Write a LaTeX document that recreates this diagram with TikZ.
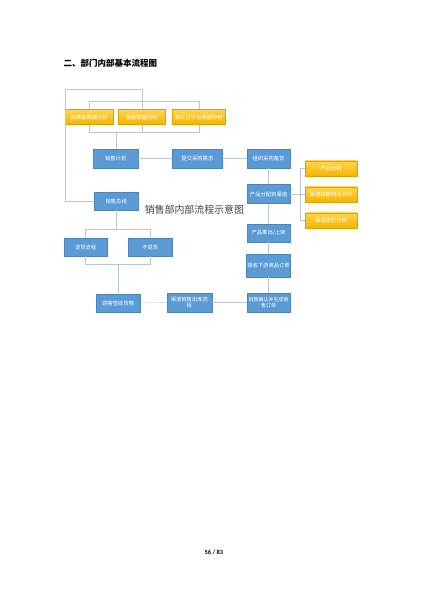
\documentclass[tikz,border=0pt]{standalone}
\usepackage{fontspec}
\setmainfont{Carlito}
\newfontfamily\cjk{Noto Sans CJK SC}
\usetikzlibrary{shapes, calc, shadows}
\usepackage{xcolor}
\definecolor{boxblue}{HTML}{5B9BD5}
\definecolor{goldtop}{HTML}{FFD54F}
\definecolor{goldbot}{HTML}{F4B400}
\definecolor{linegray}{HTML}{B7C7D9}

\begin{document}
\begin{tikzpicture}[x=0.4976mm, y=-0.4966mm]
			\tikzstyle{bluebox}=[
			rectangle,
			draw=boxblue!85!black,
			fill=boxblue,
			text=white,
			font=\cjk\fontsize{7.5}{8.5}\selectfont,
			align=center,
			inner sep=1pt,
			minimum width=22mm,
			minimum height=9.4mm,
			drop shadow={opacity=0.2, shadow xshift=0.4pt, shadow yshift=-0.5pt}
			]
			\tikzstyle{goldbox}=[
			bluebox,
			draw=goldbot!90!black,
			top color=goldtop,
			bottom color=goldbot,
			minimum height=7.5mm
			]
			\tikzstyle{link}=[draw=linegray, line width=0.6pt]
			\fill[white] (0,0) rectangle (422,598);
			\useasboundingbox (0,0) rectangle (422,598);
			%
			\node[anchor=west, font=\cjk\bfseries\fontsize{12}{14}\selectfont] (TITLE) at (61,63.5) {二、部门内部基本流程图};
			\node[font=\cjk\fontsize{14}{16}\selectfont, text=black!75] (CAPTION) at (194,210) {销售部内部流程示意图};
			\node[font=\bfseries\fontsize{9}{10}\selectfont] (PAGE) at (213.5,552) {56 / 83};
			%
			\node[goldbox, minimum width=23.9mm] (A1) at (89,117) {消费者数据分析};
			\node[goldbox, minimum width=23.4mm] (A2) at (141.5,117) {销售数据分析};
			\node[goldbox, minimum width=26.4mm] (A3) at (198.5,117) {第三方平台数据分析};
			%
			\node[bluebox, minimum width=22.4mm] (PLAN) at (115.5,158.5) {销售计划};
			\node[bluebox, minimum width=24.9mm] (SUBMIT) at (197,158.5) {提交采购需求};
			\node[bluebox, minimum width=21.6mm] (STOCK) at (268,158.5) {组织采购备货};
			\node[bluebox, minimum width=21.6mm] (ALLOC) at (268,194) {产品分配到渠道};
			\node[bluebox, minimum width=21.6mm, minimum height=9mm] (LAUNCH) at (268,233) {产品推出/上架};
			\node[bluebox, minimum width=21.6mm, minimum height=11.4mm] (ORDER) at (268,265.5) {接收下游商品订单};
			\node[bluebox, minimum width=21.6mm, font=\cjk\fontsize{7}{8}\selectfont] (CONFIRM) at (268,302.5) {销售确认并生成销\\售订单};
			\node[bluebox, minimum width=22.4mm] (CHANNEL) at (189,302.5) {渠道销售出库流\\程};
			\node[bluebox, minimum width=21.9mm, minimum height=9mm] (SIGN) at (118,303) {顾客签收货物};
			%
			\node[bluebox, minimum width=21.9mm, minimum height=9mm] (SUMMARY) at (116,201) {销售总结};
			\node[bluebox, minimum width=21.4mm, minimum height=9mm] (RETURN) at (85.5,247) {退货流程};
			\node[bluebox, minimum width=21.9mm, minimum height=9mm] (NORETURN) at (150,247) {不退货};
			%
			\node[goldbox, minimum width=25.4mm] (B1) at (330.5,168.5) {产品分析};
			\node[goldbox, minimum width=25.4mm] (B2) at (330.5,194.5) {渠道销售特点分析};
			\node[goldbox, minimum width=25.4mm] (B3) at (330.5,220.5) {渠道定价分析};
			%
			\coordinate (TOPBAR) at (0,101);
			\coordinate (BOTBAR) at (0,132);
			\coordinate (LOOP) at (65,89);
			\coordinate (UPBAR) at (0,229);
			\coordinate (LOWBAR) at (0,264);
			\coordinate (RBAR) at (300,0);
			%
			\draw[link] (A1.north) -- (A1.north |- TOPBAR) -- (A3.north |- TOPBAR) -- (A3.north);
			\draw[link] (A1.south) -- (A1.south |- BOTBAR) -- (A3.south |- BOTBAR) -- (A3.south);
			\draw[link] (A2.north) -- (A2.north |- TOPBAR);
			\draw[link] (A2.south) -- (A2.south |- BOTBAR);
			\draw[link] (PLAN.north) -- (PLAN.north |- BOTBAR);
			\draw[link] (SUMMARY.west) -| (LOOP) -| (A2.north |- TOPBAR);
			%
			\draw[link] (PLAN) -- (SUBMIT);
			\draw[link] (SUBMIT) -- (STOCK);
			\draw[link] (STOCK) -- (ALLOC);
			\draw[link] (ALLOC) -- (LAUNCH);
			\draw[link] (LAUNCH) -- (ORDER);
			\draw[link] (ORDER) -- (CONFIRM);
			\draw[link] (CONFIRM) -- (CHANNEL);
			\draw[link] (CHANNEL) -- (SIGN);
			%
			\draw[link] (ALLOC.east) -- (ALLOC.east -| RBAR);
			\draw[link] (B1.west) -- (B1.west -| RBAR) -- (B3.west -| RBAR) -- (B3.west);
			\draw[link] (B2.west) -- (B2.west -| RBAR);
			%
			\draw[link] (SUMMARY.south) -- (SUMMARY.south |- UPBAR);
			\draw[link] (RETURN.north) -- (RETURN.north |- UPBAR) -- (NORETURN.north |- UPBAR) -- (NORETURN.north);
			\draw[link] (RETURN.south) -- (RETURN.south |- LOWBAR) -- (NORETURN.south |- LOWBAR) -- (NORETURN.south);
			\draw[link] (SIGN.north) -- (SIGN.north |- LOWBAR);
		\end{tikzpicture}
\end{document}
